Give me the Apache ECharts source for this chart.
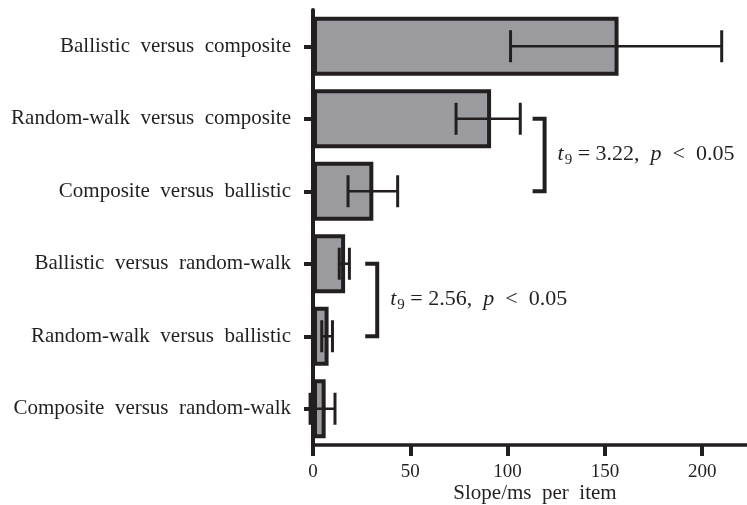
<!DOCTYPE html>
<html>
<head>
<meta charset="utf-8">
<script src="https://cdn.jsdelivr.net/npm/echarts@6/dist/echarts.min.js"></script>
<style>html,body{margin:0;padding:0;background:#fff}#c{width:747px;height:505px}</style>
</head>
<body>
<div id="c"></div>
<script>
// ---- data ----
const categories = [
  'Ballistic versus composite',
  'Random-walk versus composite',
  'Composite versus ballistic',
  'Ballistic versus random-walk',
  'Random-walk versus ballistic',
  'Composite versus random-walk'
];
const slopes = [157, 91.5, 31, 16.5, 8, 6.5];
const errLow = [101.5, 73.5, 18, 13.5, 4.5, -1.5];
const errHigh = [210, 106.5, 43.5, 18.7, 10, 11.3];
const xTicks = [0, 50, 100, 150, 200];
// significance brackets: x position (value), from category index, to category index, stats
const bracketX = [119, 33];
const bracketFrom = [1, 3];
const bracketTo = [2, 4];
const bracketT = ['3.22', '2.56'];
const bracketP = ['0.05', '0.05'];

const INK = '#231f20';
const FONT = '"Liberation Serif", "Times New Roman", serif';
const wide = s => s.split(' ').join('  ');

const chart = echarts.init(document.getElementById('c'), null, {renderer: 'canvas'});

const errData = categories.map((c, i) => [i, errLow[i], errHigh[i]]);
const bracketData = bracketX.map((x, i) => [x, bracketFrom[i], bracketTo[i]]);

chart.setOption({
  animation: false,
  backgroundColor: '#fff',
  grid: {left: 313, right: 0, top: 10, bottom: 60, containLabel: false, outerBoundsMode: 'none'},
  xAxis: {
    type: 'value', min: 0, max: 223,
    name: wide('Slope/ms per item'), nameLocation: 'middle', nameGap: 38, nameMoveOverlap: false,
    nameTextStyle: {fontFamily: FONT, fontSize: 21, color: INK, padding: [0, 0, 0, 10]},
    axisLine: {show: true, lineStyle: {color: INK, width: 3.5}},
    axisTick: {show: true, customValues: xTicks, length: 11, lineStyle: {color: INK, width: 4}},
    axisLabel: {customValues: xTicks, fontFamily: FONT, fontSize: 19, color: INK, margin: 18},
    splitLine: {show: false}
  },
  yAxis: {
    type: 'category', data: categories, inverse: true,
    axisLine: {show: true, lineStyle: {color: INK, width: 4}},
    axisTick: {show: true, alignWithLabel: true, length: 9, lineStyle: {color: INK, width: 4}},
    axisLabel: {fontFamily: FONT, fontSize: 21, color: INK, margin: 22, formatter: wide}
  },
  series: [
    {
      type: 'bar', data: slopes, barWidth: 59,
      itemStyle: {color: '#9b9b9f', borderColor: INK, borderWidth: 4},
      z: 2
    },
    {
      type: 'custom', data: errData, encode: {x: [1, 2], y: 0}, z: 3,
      renderItem(params, api) {
        const i = api.value(0);
        const p1 = api.coord([api.value(1), i]);
        const p2 = api.coord([api.value(2), i]);
        const h = 16;
        const st = {stroke: INK, lineWidth: 3};
        return {type: 'group', children: [
          {type: 'line', shape: {x1: p1[0], y1: p1[1], x2: p2[0], y2: p2[1]}, style: {stroke: INK, lineWidth: 2.5}},
          {type: 'line', shape: {x1: p1[0], y1: p1[1] - h, x2: p1[0], y2: p1[1] + h}, style: st},
          {type: 'line', shape: {x1: p2[0], y1: p2[1] - h, x2: p2[0], y2: p2[1] + h}, style: st}
        ]};
      }
    },
    {
      type: 'custom', data: bracketData, encode: {x: 0, y: [1, 2]}, z: 3,
      renderItem(params, api) {
        const a = api.coord([api.value(0), api.value(1)]);
        const b = api.coord([api.value(0), api.value(2)]);
        const cap = 12;
        const st = {stroke: INK, lineWidth: 4, fill: null};
        const tVal = bracketT[params.dataIndex];
        const pVal = bracketP[params.dataIndex];
        return {type: 'group', children: [
          {type: 'polyline', shape: {points: [[a[0] - cap, a[1]], [a[0], a[1]], [b[0], b[1]], [b[0] - cap, b[1]]]}, style: st},
          {type: 'text', x: a[0] + 13, y: (a[1] + b[1]) / 2 - 1,
            style: {
              text: '{i|t}{s|9}{n| = ' + tVal + ',  }{i|p}{n|  <  ' + pVal + '}',
              verticalAlign: 'middle', align: 'left',
              rich: {
                i: {fontFamily: FONT, fontStyle: 'italic', fontSize: 22, fill: INK, lineHeight: 28, verticalAlign: 'middle'},
                n: {fontFamily: FONT, fontSize: 22, fill: INK, lineHeight: 28, verticalAlign: 'middle'},
                s: {fontFamily: FONT, fontSize: 15, fill: INK, lineHeight: 28, verticalAlign: 'bottom', padding: [0, 0, 0, 1]}
              }
            }}
        ]};
      }
    }
  ]
});
</script>
</body>
</html>
